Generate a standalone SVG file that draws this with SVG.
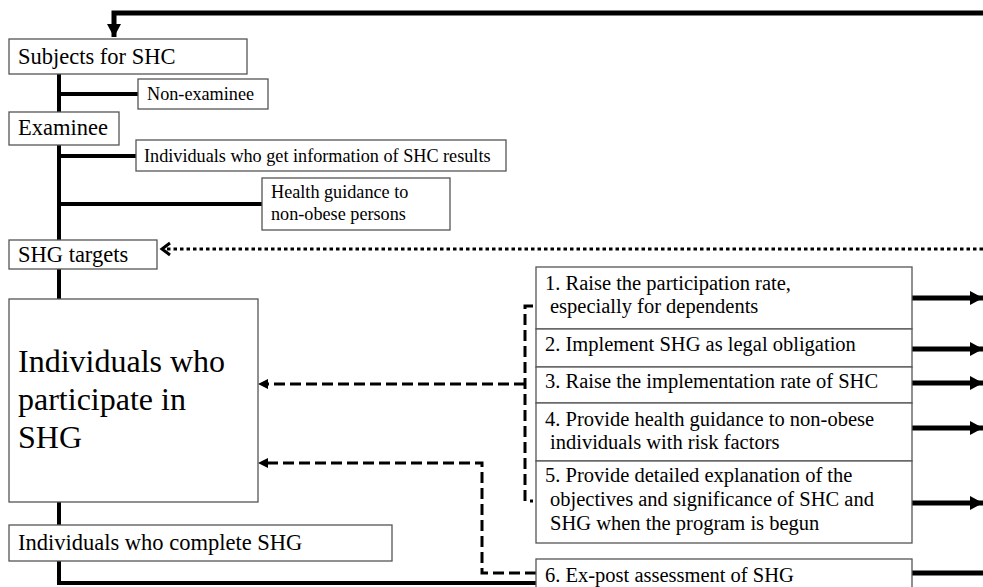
<svg xmlns="http://www.w3.org/2000/svg" width="983" height="587" viewBox="0 0 983 587">
<style>
.box{fill:#fff;stroke:#555;stroke-width:1.3}
.t{font-family:"Liberation Serif","Times New Roman",serif;fill:#000}
.s18{font-size:18.2px}
.s20{font-size:20.5px}
.s22{font-size:22.5px}
.s32{font-size:32px}
.trunk{stroke:#000;stroke-width:4;fill:none}
.thick{stroke:#000;stroke-width:5;fill:none}
.dash{stroke:#000;stroke-width:3;fill:none;stroke-dasharray:11 5}
.dot{stroke:#000;stroke-width:3;fill:none;stroke-dasharray:3.5 3}
</style>
<defs>
<marker id="ah" markerUnits="userSpaceOnUse" markerWidth="14" markerHeight="14" refX="13" refY="7" orient="auto">
<path d="M0,0 L13,7 L0,14 Z" fill="#000"/>
</marker>
<marker id="ahs" markerUnits="userSpaceOnUse" markerWidth="12" markerHeight="12" refX="10" refY="5" orient="auto">
<path d="M0,0 L10,5 L0,10 Z" fill="#000"/>
</marker>
</defs>
<g id="connectors">
<path class="thick" d="M983,13 H114 V37" marker-end="url(#ah)"/>
<path class="trunk" d="M59,74 V112 M59,145 V240 M59,269 V299 M59,502 V525 M59,561 V583 H536"/>
<path class="trunk" d="M59,94 H138 M59,156 H136 M59,204 H262"/>
<path class="dot" d="M983,249 H164"/>
<path d="M170,243 L162,249 L170,255" fill="none" stroke="#000" stroke-width="3"/>
<path class="dash" d="M533,306 H525 V501 H533 M525,384 H266"/>
<path d="M268,379 L258,384 L268,389 Z" fill="#000"/>
<path class="dash" d="M536,573 H482 V463 H266"/>
<path d="M268,458 L258,463 L268,468 Z" fill="#000"/>
<path class="thick" d="M912,298 H983" marker-end="url(#ah)"/>
<path class="thick" d="M912,349 H983" marker-end="url(#ah)"/>
<path class="thick" d="M912,383 H983" marker-end="url(#ah)"/>
<path class="thick" d="M912,428 H983" marker-end="url(#ah)"/>
<path class="thick" d="M912,503 H983" marker-end="url(#ah)"/>
<path class="thick" d="M912,573 H983"/>
</g>
<g id="n-subjects"><rect class="box" x="9" y="39" width="238" height="35"/><text class="t s22" x="18" y="64">Subjects for SHC</text></g>
<g id="n-nonexaminee"><rect class="box" x="138" y="79" width="130" height="30"/><text class="t s18" x="147" y="100">Non-examinee</text></g>
<g id="n-examinee"><rect class="box" x="9" y="112" width="110" height="33"/><text class="t s22" x="18" y="135">Examinee</text></g>
<g id="n-info"><rect class="box" x="136" y="140" width="370" height="31"/><text class="t s18" x="144" y="162">Individuals who get information of SHC results</text></g>
<g id="n-health"><rect class="box" x="262" y="178" width="188" height="52"/><text class="t s18" x="271" y="198">Health guidance to</text><text class="t s18" x="271" y="220">non-obese persons</text></g>
<g id="n-targets"><rect class="box" x="9" y="240" width="148" height="29"/><text class="t s22" x="18" y="262">SHG targets</text></g>
<g id="n-participate"><rect class="box" x="9" y="299" width="249" height="203"/><text class="t s32" x="18" y="372">Individuals who</text><text class="t s32" x="18" y="410">participate in</text><text class="t s32" x="18" y="448">SHG</text></g>
<g id="n-complete"><rect class="box" x="9" y="525" width="383" height="36"/><text class="t s22" x="18" y="550">Individuals who complete SHG</text></g>
<g id="n-measures">
<rect class="box" x="536" y="267" width="376" height="62"/>
<rect class="box" x="536" y="329" width="376" height="38"/>
<rect class="box" x="536" y="367" width="376" height="36"/>
<rect class="box" x="536" y="403" width="376" height="58"/>
<rect class="box" x="536" y="461" width="376" height="82"/>
<text class="t s20" x="545" y="290">1. Raise the participation rate,</text>
<text class="t s20" x="550" y="313">especially for dependents</text>
<text class="t s20" x="545" y="351">2. Implement SHG as legal obligation</text>
<text class="t s20" x="545" y="388">3. Raise the implementation rate of SHC</text>
<text class="t s20" x="545" y="426">4. Provide health guidance to non-obese</text>
<text class="t s20" x="550" y="449">individuals with risk factors</text>
<text class="t s20" x="545" y="482">5. Provide detailed explanation of the</text>
<text class="t s20" x="550" y="506">objectives and significance of SHC and</text>
<text class="t s20" x="550" y="530">SHG when the program is begun</text>
</g>
<g id="n-expost"><rect class="box" x="536" y="559" width="376" height="40"/><text class="t s20" x="545" y="582">6. Ex-post assessment of SHG</text></g>
</svg>
